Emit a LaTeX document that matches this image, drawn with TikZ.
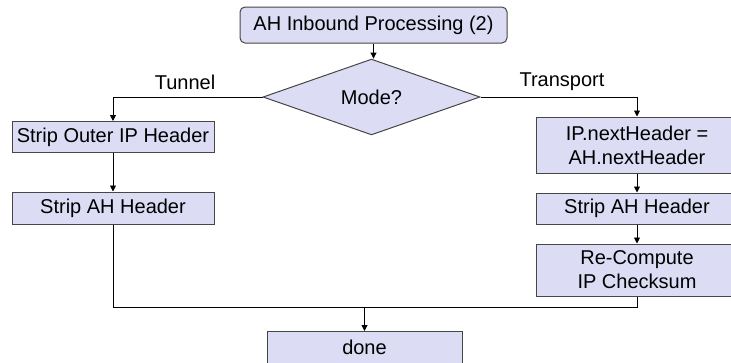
\documentclass[tikz,border=0pt]{standalone}
\usepackage{fontspec}
\setmainfont{Liberation Sans}
\usetikzlibrary{shapes.geometric,arrows.meta}
\definecolor{boxfill}{RGB}{220,220,245}
\definecolor{boxline}{RGB}{70,70,70}
\begin{document}
\begin{tikzpicture}[x=1pt,y=-1pt,
  every node/.style={font=\fontsize{20}{24}\selectfont, text=black},
  procbox/.style={draw=boxline, line width=1pt, fill=boxfill, rectangle, inner sep=0pt, align=center},
  startbox/.style={procbox, rounded corners=5pt},
  decision/.style={draw=boxline, line width=1pt, fill=boxfill, diamond, inner sep=0pt, minimum width=217pt, minimum height=50pt},
  conn/.style={draw=black, line width=0.9pt},
  arr/.style={conn, -{Triangle[length=6pt,width=6pt]}},
  lbl/.style={inner sep=0pt}
]
\useasboundingbox (0,0) rectangle (731,362);
\clip (0,0) rectangle (731,362);
\node[startbox, minimum width=267pt, minimum height=36pt] (start) at (373.5,25) {AH Inbound Processing (2)};
\node[decision] (mode) at (371.5,97) {Mode?};
\node[lbl] (tun) at (185,82) {Tunnel};
\node[lbl] (tra) at (562,82) {Transport};
\node[procbox, minimum width=202pt, minimum height=31pt] (l1) at (113,137) {Strip Outer IP Header};
\node[procbox, minimum width=202pt, minimum height=32pt] (l2) at (113,208) {Strip AH Header};
\node[procbox, minimum width=202pt, minimum height=56pt] (r1) at (637,145) {IP.nextHeader =\\AH.nextHeader};
\node[procbox, minimum width=202pt, minimum height=31pt] (r2) at (637,208.5) {Strip AH Header};
\node[procbox, minimum width=202pt, minimum height=52pt] (r3) at (637,270) {Re-Compute\\IP Checksum};
\node[procbox, minimum width=195pt, minimum height=32pt] (done) at (364.5,347.5) {done};
\coordinate (j) at (364.5,307);
\draw[arr] (start.south) -- (mode.north -| start.south);
\draw[arr] (mode.west) -| (l1.north);
\draw[arr] (mode.east) -| (r1.north);
\draw[arr] (l1.south) -- (l2.north);
\draw[arr] (r1.south) -- (r2.north);
\draw[arr] (r2.south) -- (r3.north);
\draw[conn] (l2.south) |- (j);
\draw[conn] (r3.south) |- (j);
\draw[arr] (j) -- (done.north);
\end{tikzpicture}
\end{document}
